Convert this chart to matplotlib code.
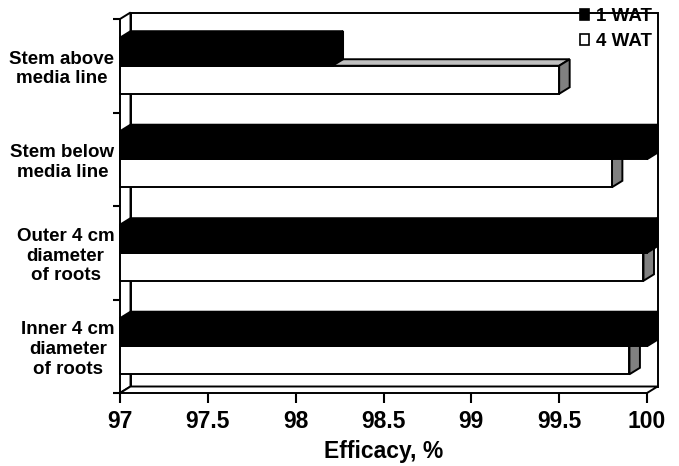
import matplotlib
matplotlib.use("Agg")
import matplotlib.pyplot as plt
from matplotlib.patches import Polygon, Patch
import numpy as np

# ---- data ----
categories = ["Stem above\nmedia line", "Stem below\nmedia line",
              "Outer 4 cm\ndiameter\nof roots", "Inner 4 cm\ndiameter\nof roots"]
wat1 = [98.21, 100.0, 100.0, 100.0]
wat4 = [99.5, 99.8, 99.98, 99.9]
series_names = ["1 WAT", "4 WAT"]
xticks = [97, 97.5, 98, 98.5, 99, 99.5, 100]
xtick_labels = ["97", "97.5", "98", "98.5", "99", "99.5", "100"]
x_label = "Efficacy, %"

FONT = ["Liberation Sans", "DejaVu Sans"]
plt.rcParams["font.family"] = FONT
plt.rcParams["font.weight"] = "bold"

W, H = 679, 466
fig = plt.figure(figsize=(W / 100, H / 100), dpi=100)
L, R, T, B = 120, 647, 19, 393
ax = fig.add_axes([L / W, (H - B) / H, (R - L) / W, (B - T) / H])
xmin, xmax = 97, 100
n = len(categories)
ax.set_xlim(xmin, xmax)
ax.set_ylim(0, n)
for s in ax.spines.values():
    s.set_visible(False)

# depth vector (pixels -> data units)
dpx, dpy = 10.5, 6.5
DX = dpx * (xmax - xmin) / (R - L)
DY = dpy * n / (B - T)

lw = 1.4
z = [1]
def poly(pts, fc, lw_=lw):
    p = Polygon(pts, closed=True, facecolor=fc, edgecolor="black", lw=lw_,
                joinstyle="miter", clip_on=False, zorder=z[0])
    ax.add_patch(p)
    z[0] += 1

# walls
poly([(xmin + DX, DY), (xmax + DX, DY), (xmax + DX, n + DY), (xmin + DX, n + DY)], "white")
poly([(xmin, 0), (xmin, n), (xmin + DX, n + DY), (xmin + DX, DY)], "white")
poly([(xmin, 0), (xmax, 0), (xmax + DX, DY), (xmin + DX, DY)], "white")

bh = 0.3
centers = [n - i - 0.5 for i in range(n)]

def bar3d(y0, val, front, top, side):
    y1 = y0 + bh
    poly([(xmin, y1), (val, y1), (val + DX, y1 + DY), (xmin + DX, y1 + DY)], top)
    poly([(val, y0), (val, y1), (val + DX, y1 + DY), (val + DX, y0 + DY)], side)
    ax.barh([y0], [val - xmin], left=xmin, height=bh, align="edge",
            color=front, edgecolor="black", lw=lw, clip_on=False, zorder=z[0])
    z[0] += 1

for c, v1, v4 in zip(centers, wat1, wat4):
    bar3d(c - bh, v4, "white", "#c0c0c0", "#808080")
    bar3d(c, v1, "black", "black", "black")

# ticks
ax.set_xticks(xticks)
ax.set_xticklabels(xtick_labels, fontsize=16.5, fontweight="bold")
ax.set_yticks(np.arange(0, n + 1))
ax.set_yticklabels([])
ax.set_yticks(centers, categories, minor=True)
ax.tick_params(axis="x", direction="out", length=7, width=1.5, pad=5)
ax.tick_params(axis="y", which="major", direction="out", length=5, width=1.5)
ax.tick_params(axis="y", which="minor", length=0, pad=4, labelsize=13.5)
for t in ax.get_yticklabels(minor=True):
    t.set_multialignment("center")
    t.set_fontweight("bold")
    t.set_linespacing(1.2)
ax.set_xlabel(x_label, fontsize=16.5, fontweight="bold", labelpad=5)

handles = [Patch(facecolor="black", edgecolor="black", lw=1.2),
           Patch(facecolor="white", edgecolor="black", lw=1.2)]
leg = ax.legend(handles, series_names, loc="upper right",
                bbox_to_anchor=(652 / W, 1 - 8 / H), bbox_transform=fig.transFigure,
                frameon=False, borderpad=0, borderaxespad=0, handlelength=0.5,
                handleheight=0.5, handletextpad=0.35, labelspacing=0.45,
                prop={"weight": "bold", "size": 13.5})
leg.set_zorder(100)

fig.savefig("out.png", dpi=100)
